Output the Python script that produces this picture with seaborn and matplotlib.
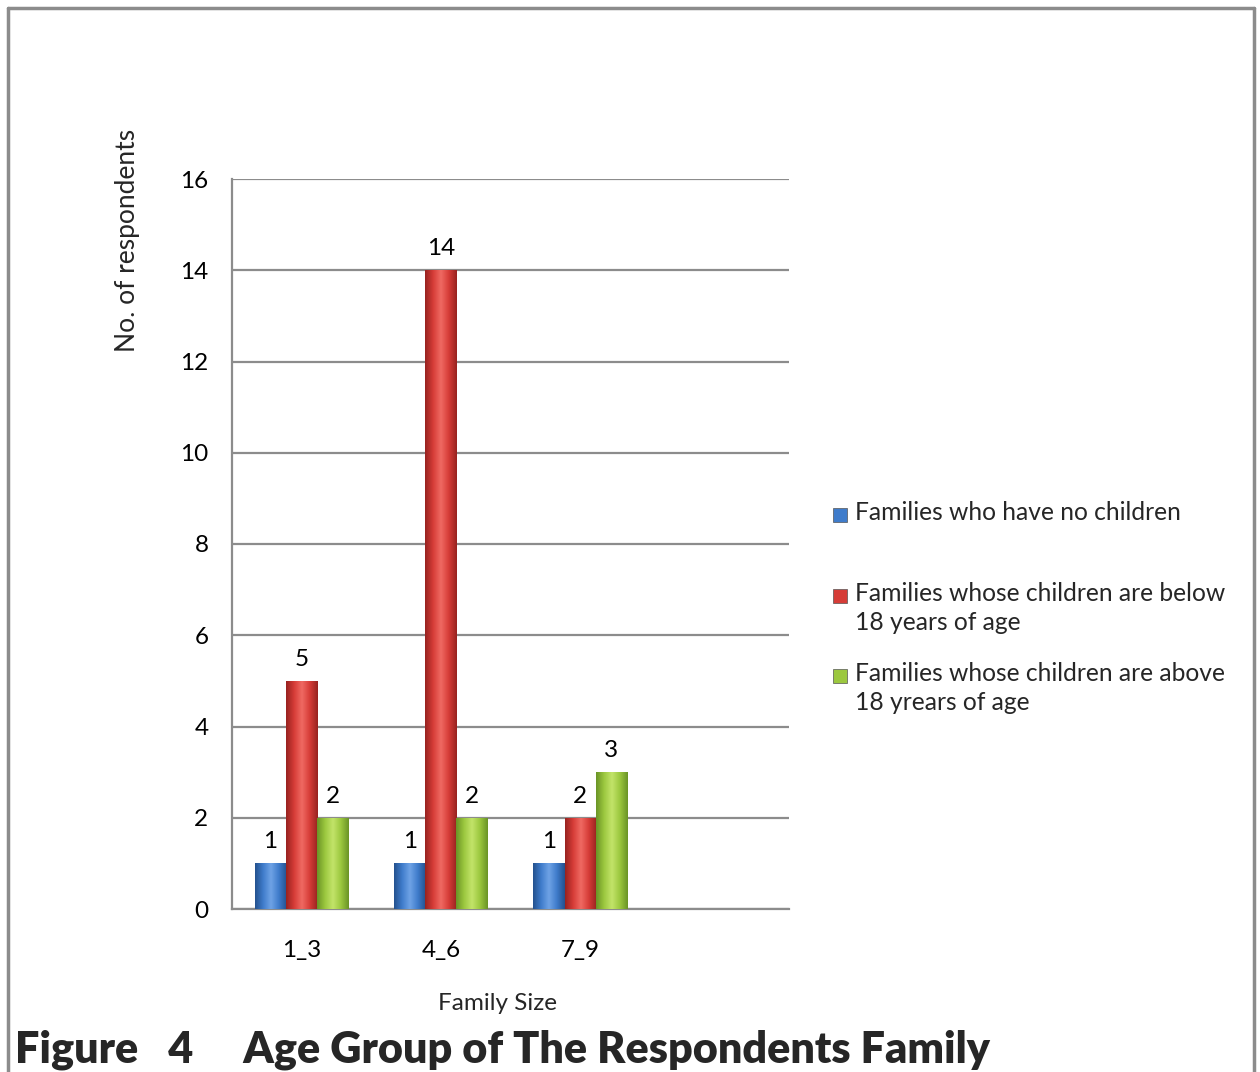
import numpy as np
import pandas as pd
import matplotlib
matplotlib.use("Agg")
import matplotlib.pyplot as plt
from matplotlib.lines import Line2D
from matplotlib.patches import Rectangle
from matplotlib.colors import LinearSegmentedColormap
import seaborn as sns

# ---- data ----
family_sizes = ["1_3", "4_6", "7_9"]
series_names = [
    "Families who have no children",
    "Families whose children are below\n18 years of age",
    "Families whose children are above\n18 yrears of age",
]
no_children = [1, 1, 1]
below_18 = [5, 14, 2]
above_18 = [2, 2, 3]
y_ticks = [0, 2, 4, 6, 8, 10, 12, 14, 16]

base_colors = ["#3f7ccb", "#d63c37", "#9cc83f"]
edge_colors = ["#24528f", "#982320", "#6b9427"]
light_colors = ["#6fa3e6", "#f06a63", "#c3e46a"]

df = pd.DataFrame({
    "Family Size": family_sizes * 3,
    "Series": np.repeat(series_names, len(family_sizes)),
    "Count": no_children + below_18 + above_18,
})

sns.set_theme(style="white")
plt.rcParams["font.family"] = ["Lato", "DejaVu Sans"]

fig = plt.figure(figsize=(12.6, 10.72), dpi=100)
ax = fig.add_axes([232 / 1260, 1 - 909 / 1072, (789 - 232) / 1260, (909 - 179) / 1072])

sns.barplot(data=df, x="Family Size", y="Count", hue="Series",
            hue_order=series_names, order=family_sizes,
            palette=base_colors, width=0.67, ax=ax, legend=False,
            saturation=1, linewidth=0, zorder=3)

# shaded, bevelled look on each bar
for cont, c_light, c_base, c_edge in zip(ax.containers, light_colors, base_colors, edge_colors):
    cmap = LinearSegmentedColormap.from_list("g", [c_edge, c_base, c_light, c_base, c_edge])
    grad = np.linspace(0, 1, 64).reshape(1, -1)
    for bar in cont:
        x0, y0 = bar.get_x(), bar.get_y()
        w, h = bar.get_width(), bar.get_height()
        im = ax.imshow(grad, cmap=cmap, aspect="auto", extent=(x0, x0 + w, y0, y0 + h),
                       zorder=4, interpolation="bilinear")
        im.set_clip_path(bar)
    ax.bar_label(cont, fmt="%g", padding=8, fontsize=17.5, color="black", zorder=6)

ax.set_xlim(-0.5, 3.5)
ax.set_ylim(0, 16)
ax.set_yticks(y_ticks)
ax.set_yticklabels([str(v) for v in y_ticks])
ax.yaxis.grid(True, color="#8c8c8c", linewidth=1.6, zorder=0)
ax.set_axisbelow(True)
for s in ["top", "right"]:
    ax.spines[s].set_visible(False)
for s in ["left", "bottom"]:
    ax.spines[s].set_color("#8c8c8c")
    ax.spines[s].set_linewidth(1.6)
ax.tick_params(axis="y", length=0, pad=17, labelsize=17.5, colors="black")
ax.tick_params(axis="x", length=0, pad=22, labelsize=17.5, colors="black")
ax.set_xlabel("")
ax.set_ylabel("")

fig.text(498 / 1260, 1 - 1003 / 1072, "Family Size", ha="center", va="center", fontsize=17.5)
fig.text(127 / 1260, 1 - 240 / 1072, "No. of respondents", rotation=90,
         ha="center", va="center", fontsize=19)

# legend entries
legend_rows = [515, 596, 676]
for name, row, c in zip(series_names, legend_rows, base_colors):
    fig.patches.append(Rectangle((833 / 1260, 1 - (row + 7) / 1072), 14 / 1260, 14 / 1072,
                                 transform=fig.transFigure, facecolor=c,
                                 edgecolor="#555555", linewidth=0.5))
    fig.text(855 / 1260, 1 - (row - 14) / 1072, name, ha="left", va="top",
             fontsize=17.7, linespacing=1.3, transform=fig.transFigure)

# outer chart border (top, left, right)
border = dict(color="#8c8c8c", linewidth=2.5, transform=fig.transFigure)
fig.lines.append(Line2D([8 / 1260, 1254 / 1260], [1 - 8 / 1072, 1 - 8 / 1072], **border))
fig.lines.append(Line2D([8 / 1260, 8 / 1260], [0, 1 - 8 / 1072], **border))
fig.lines.append(Line2D([1254 / 1260, 1254 / 1260], [0, 1 - 8 / 1072], **border))

fig.text(15 / 1260, 1 - 1050 / 1072, "Figure   4     Age Group of The Respondents Family",
         ha="left", va="center", fontsize=31.1, fontweight="heavy")

fig.savefig("out.png", dpi=100)
